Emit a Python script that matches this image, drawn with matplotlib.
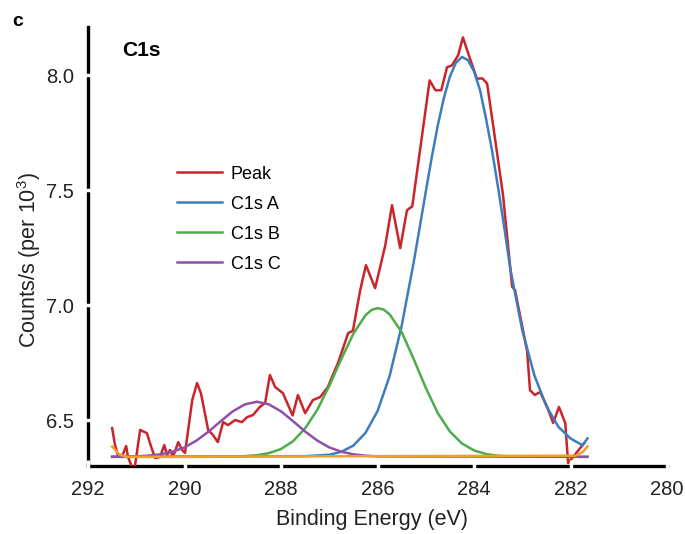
import matplotlib
matplotlib.use("Agg")
import matplotlib.pyplot as plt

plt.rcParams['font.family'] = ['Liberation Sans', 'DejaVu Sans']
plt.rcParams['mathtext.default'] = 'regular'

# measured C1s envelope (binding energy in eV, counts/s in thousands)
peak_energy = [291.50, 291.44, 291.38, 291.30, 291.21, 291.17, 291.09, 291.03,
               290.92, 290.78, 290.69, 290.61, 290.51, 290.42, 290.36, 290.30,
               290.24, 290.13, 290.05, 289.99, 289.84, 289.74, 289.66, 289.51,
               289.41, 289.31, 289.20, 289.10, 288.95, 288.81, 288.70, 288.58,
               288.44, 288.33, 288.23, 288.12, 287.96, 287.76, 287.65, 287.50,
               287.34, 287.19, 287.03, 286.90, 286.82, 286.67, 286.61, 286.51,
               286.36, 286.24, 286.05, 285.84, 285.70, 285.53, 285.39, 285.28,
               284.92, 284.80, 284.68, 284.56, 284.46, 284.33, 284.23, 284.12,
               283.94, 283.83, 283.73, 283.67, 283.56, 283.40, 283.21, 283.15,
               282.90, 282.84, 282.74, 282.63, 282.49, 282.36, 282.24, 282.11,
               282.05, 281.95, 281.80, 281.72]
peak_counts = [6.465, 6.391, 6.348, 6.339, 6.387, 6.339, 6.296, 6.296,
               6.457, 6.443, 6.383, 6.335, 6.339, 6.391, 6.348, 6.370,
               6.339, 6.404, 6.370, 6.357, 6.587, 6.661, 6.617, 6.457,
               6.435, 6.404, 6.491, 6.478, 6.500, 6.491, 6.513, 6.522,
               6.557, 6.574, 6.696, 6.643, 6.617, 6.520, 6.609, 6.530,
               6.587, 6.600, 6.643, 6.709, 6.748, 6.840, 6.878, 6.889,
               7.065, 7.174, 7.074, 7.260, 7.435, 7.248, 7.413, 7.430,
               7.978, 7.935, 7.935, 8.035, 8.043, 8.087, 8.165, 8.095,
               7.985, 7.987, 7.965, 7.878, 7.717, 7.480, 7.080, 7.065,
               6.800, 6.630, 6.609, 6.622, 6.560, 6.487, 6.557, 6.487,
               6.313, 6.339, 6.378, 6.400]

# fitted components
a_energy = [291.50, 287.50, 287.00, 286.75, 286.50, 286.25, 286.00, 285.75,
            285.50, 285.25, 285.125, 285.00, 284.875, 284.75, 284.625, 284.50,
            284.375, 284.25, 284.125, 284.00, 283.875, 283.75, 283.625, 283.50,
            283.375, 283.25, 283.00, 282.75, 282.50, 282.25, 282.00, 281.75,
            281.65]
a_counts = [6.340, 6.343, 6.349, 6.362, 6.389, 6.444, 6.539, 6.691,
            6.910, 7.187, 7.340, 7.494, 7.645, 7.783, 7.902, 7.995,
            8.055, 8.080, 8.066, 8.017, 7.935, 7.810, 7.670, 7.510,
            7.340, 7.160, 6.890, 6.695, 6.560, 6.470, 6.420, 6.390,
            6.420]

b_energy = [291.50, 289.50, 289.00, 288.75, 288.50, 288.25, 288.00, 287.75,
            287.50, 287.25, 287.00, 286.75, 286.50, 286.25, 286.125, 286.00,
            285.875, 285.75, 285.50, 285.25, 285.00, 284.75, 284.50, 284.25,
            284.00, 283.75, 283.50, 283.25, 283.00, 281.65]
b_counts = [6.340, 6.340, 6.341, 6.343, 6.347, 6.356, 6.374, 6.408,
            6.464, 6.544, 6.649, 6.766, 6.876, 6.956, 6.979, 6.987,
            6.981, 6.960, 6.883, 6.765, 6.640, 6.530, 6.450, 6.398,
            6.368, 6.352, 6.345, 6.342, 6.341, 6.340]

c_energy = [291.50, 291.00, 290.75, 290.50, 290.25, 290.00, 289.75, 289.50,
            289.25, 289.00, 288.75, 288.50, 288.25, 288.00, 287.75, 287.50,
            287.25, 287.00, 286.75, 286.50, 286.25, 286.00, 281.65]
c_counts = [6.340, 6.342, 6.345, 6.351, 6.362, 6.381, 6.411, 6.450,
            6.495, 6.538, 6.568, 6.580, 6.568, 6.538, 6.495, 6.450,
            6.411, 6.381, 6.362, 6.351, 6.345, 6.342, 6.340]

base_energy = [291.50, 291.35, 291.20, 281.90, 281.75, 281.65]
base_counts = [6.385, 6.350, 6.340, 6.345, 6.360, 6.385]

x_ticks = [292, 290, 288, 286, 284, 282, 280]
y_ticks = [6.5, 7.0, 7.5, 8.0]

fig = plt.figure(figsize=(6.85, 5.34), dpi=100)
ax = fig.add_axes([0.1285, 0.1273, 0.8453, 0.822])

lw = 1.8
ax.plot(peak_energy, peak_counts, color='#c9252b', lw=lw, label='Peak')
ax.plot(a_energy, a_counts, color='#3d7dbd', lw=lw, label='C1s A')
ax.plot(b_energy, b_counts, color='#4cad4a', lw=lw, label='C1s B')
ax.plot(c_energy, c_counts, color='#9050a8', lw=lw, label='C1s C')
ax.plot(base_energy, base_counts, color='#f0a02a', lw=lw)

ax.set_xlim(292, 280)
ax.set_ylim(6.30, 8.21)
ax.set_xticks(x_ticks)
ax.set_yticks(y_ticks)
ax.set_yticklabels([f'{v:.1f}' for v in y_ticks])

for side in ['top', 'right']:
    ax.spines[side].set_visible(False)
for side in ['left', 'bottom']:
    ax.spines[side].set_linewidth(2.4)
    ax.spines[side].set_color('black')
    ax.spines[side].set_zorder(1)

# white tick marks cut small gaps into the axis lines
ax.tick_params(axis='both', direction='inout', length=8, width=2.5,
               color='white', labelsize=14.5, labelcolor='#222222', pad=6)
ax.xaxis.set_zorder(5)
ax.yaxis.set_zorder(5)

ax.set_xlabel('Binding Energy (eV)', fontsize=15.5, color='#222222')
ax.set_ylabel(r'Counts/s (per 10$^3$)', fontsize=15.5, color='#222222')
ax.xaxis.set_label_coords(0.49, -0.098)
ax.yaxis.set_label_coords(-0.078, 0.47)

leg = ax.legend(loc='upper left', bbox_to_anchor=(0.258, 0.69),
                bbox_transform=fig.transFigure, frameon=False, fontsize=13,
                handlelength=2.5, handletextpad=0.5, labelspacing=0.72,
                borderpad=0, borderaxespad=0)

fig.text(18 / 685, 1 - 22 / 534, 'c', fontsize=14, fontweight='bold',
         ha='center', va='center')
fig.text(122 / 685, 1 - 50 / 534, 'C1s', fontsize=15, fontweight='bold',
         ha='left', va='center')

fig.savefig('out.png', dpi=100)
